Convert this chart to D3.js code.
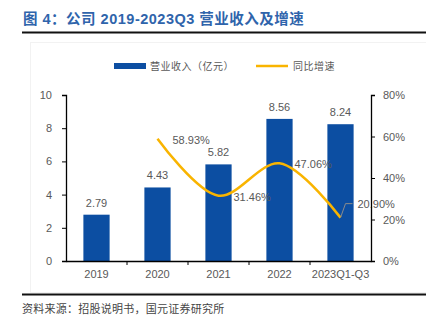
<!DOCTYPE html>
<html>
<head>
<meta charset="utf-8">
<script src="https://cdn.jsdelivr.net/npm/d3@7/dist/d3.min.js"></script>
<style>
  html, body { margin: 0; padding: 0; background: #fff; }
  svg { display: block; }
</style>
</head>
<body>
<svg id="chart" width="426" height="321"></svg>
<script>
// Revenue (100M CNY) and YoY growth, 2019 – 2023Q1-Q3
const categories = ["2019", "2020", "2021", "2022", "2023Q1-Q3"];
const revenue = [2.79, 4.43, 5.82, 8.56, 8.24];
const growthYears = ["2020", "2021", "2022", "2023Q1-Q3"];
const growth = [58.93, 31.46, 47.06, 20.90];
const leftTicks = [0, 2, 4, 6, 8, 10];
const rightTicks = [0, 20, 40, 60, 80];

const svg = d3.select("#chart");
const font = "'Liberation Sans', Arial, sans-serif";
const cjk = "'Noto Sans CJK SC', sans-serif";
const barColor = "#0c4ea2";
const lineColor = "#f9b400";
const textGrey = "#595959";

// Title
svg.append("text")
  .attr("x", 23).attr("y", 24)
  .attr("font-family", "'Liberation Sans', 'Noto Sans CJK SC', sans-serif")
  .attr("font-weight", "bold").attr("font-size", 14.5)
  .attr("letter-spacing", 0.5)
  .attr("fill", "#2f64ab")
  .text("图 4：公司 2019-2023Q3 营业收入及增速");

svg.append("line").attr("x1", 22).attr("x2", 426).attr("y1", 32.5).attr("y2", 32.5)
  .attr("stroke", "#111").attr("stroke-width", 2);

// faint chart frame
svg.append("rect").attr("x", 30.5).attr("y", 42.5).attr("width", 400).attr("height", 250)
  .attr("fill", "none").attr("stroke", "#f2f2f2").attr("stroke-width", 1);

// Scales
const plot = { left: 66, right: 371, top: 95, bottom: 261 };
const xBand = d3.scaleBand().domain(categories).range([plot.left, plot.right]);
const yL = d3.scaleLinear().domain([0, 10]).range([plot.bottom, plot.top]);
const yR = d3.scaleLinear().domain([0, 80]).range([plot.bottom, plot.top]);
const cx = c => xBand(c) + xBand.bandwidth() / 2;
const barW = xBand.bandwidth() * 0.43;

// Bars
svg.append("g").selectAll("rect").data(revenue).join("rect")
  .attr("x", (d, i) => cx(categories[i]) - barW / 2)
  .attr("width", barW)
  .attr("y", d => yL(d))
  .attr("height", d => plot.bottom - yL(d))
  .attr("fill", barColor);

// Bar value labels
svg.append("g").selectAll("text").data(revenue).join("text")
  .attr("x", (d, i) => cx(categories[i]))
  .attr("y", d => yL(d) - 8)
  .attr("text-anchor", "middle")
  .attr("font-family", font).attr("font-size", 11).attr("fill", textGrey)
  .text(d => d.toFixed(2));

// Growth line (smoothed)
const pts = growth.map((g, i) => [cx(growthYears[i]), yR(g)]);
svg.append("path")
  .attr("d", d3.line().curve(d3.curveCatmullRom.alpha(0.5))(pts))
  .attr("fill", "none").attr("stroke", lineColor).attr("stroke-width", 2.5);

// Growth labels
growth.forEach((g, i) => {
  const [px, py] = pts[i];
  const last = i === growth.length - 1;
  if (last) {
    svg.append("path")
      .attr("d", `M${px},${py} L${px + 5},${py - 14} L${px + 12},${py - 14}`)
      .attr("fill", "none").attr("stroke", "#8c8c8c").attr("stroke-width", 1);
  }
  svg.append("text")
    .attr("x", last ? px + 17 : px + 15)
    .attr("y", last ? py - 10 : py + 5)
    .attr("font-family", font).attr("font-size", 11).attr("fill", textGrey)
    .text(g.toFixed(2) + "%");
});

// Axes
const axisStyle = g => {
  g.selectAll(".domain").attr("stroke", "#000").attr("stroke-width", 1.3);
  g.selectAll(".tick line").attr("stroke", "#000");
  g.selectAll("text").attr("font-family", font).attr("font-size", 11).attr("fill", textGrey);
};

svg.append("g").attr("transform", `translate(${plot.left},0)`)
  .call(d3.axisLeft(yL).tickValues(leftTicks).tickSize(4).tickSizeOuter(4).tickPadding(10))
  .call(axisStyle);

svg.append("g").attr("transform", `translate(${plot.right},0)`)
  .call(d3.axisRight(yR).tickValues(rightTicks).tickFormat(d => d + "%").tickSize(4).tickSizeOuter(4).tickPadding(8))
  .call(axisStyle);

const xAxis = svg.append("g").attr("transform", `translate(0,${plot.bottom})`)
  .call(d3.axisBottom(xBand).tickSize(0).tickSizeOuter(0).tickPadding(9))
  .call(axisStyle);
// category dividers on the baseline
xAxis.selectAll(".divider").data(categories.slice(1)).join("line")
  .attr("x1", d => xBand(d)).attr("x2", d => xBand(d))
  .attr("y1", 0).attr("y2", 4).attr("stroke", "#000");

// Legend
const lg = svg.append("g").attr("font-family", cjk).attr("font-size", 10)
  .attr("letter-spacing", 0.5).attr("fill", textGrey);
lg.append("rect").attr("x", 114).attr("y", 63).attr("width", 32).attr("height", 6).attr("fill", barColor);
lg.append("text").attr("x", 150).attr("y", 70).text("营业收入（亿元）");
lg.append("line").attr("x1", 256).attr("x2", 288).attr("y1", 66).attr("y2", 66)
  .attr("stroke", lineColor).attr("stroke-width", 2.5);
lg.append("text").attr("x", 293).attr("y", 70).text("同比增速");

// Footer
svg.append("line").attr("x1", 22).attr("x2", 426).attr("y1", 294.5).attr("y2", 294.5)
  .attr("stroke", "#111").attr("stroke-width", 2);
svg.append("text").attr("x", 22).attr("y", 313)
  .attr("font-family", cjk).attr("font-size", 11).attr("letter-spacing", 0.25).attr("fill", "#444")
  .text("资料来源：招股说明书，国元证券研究所");
</script>
</body>
</html>
